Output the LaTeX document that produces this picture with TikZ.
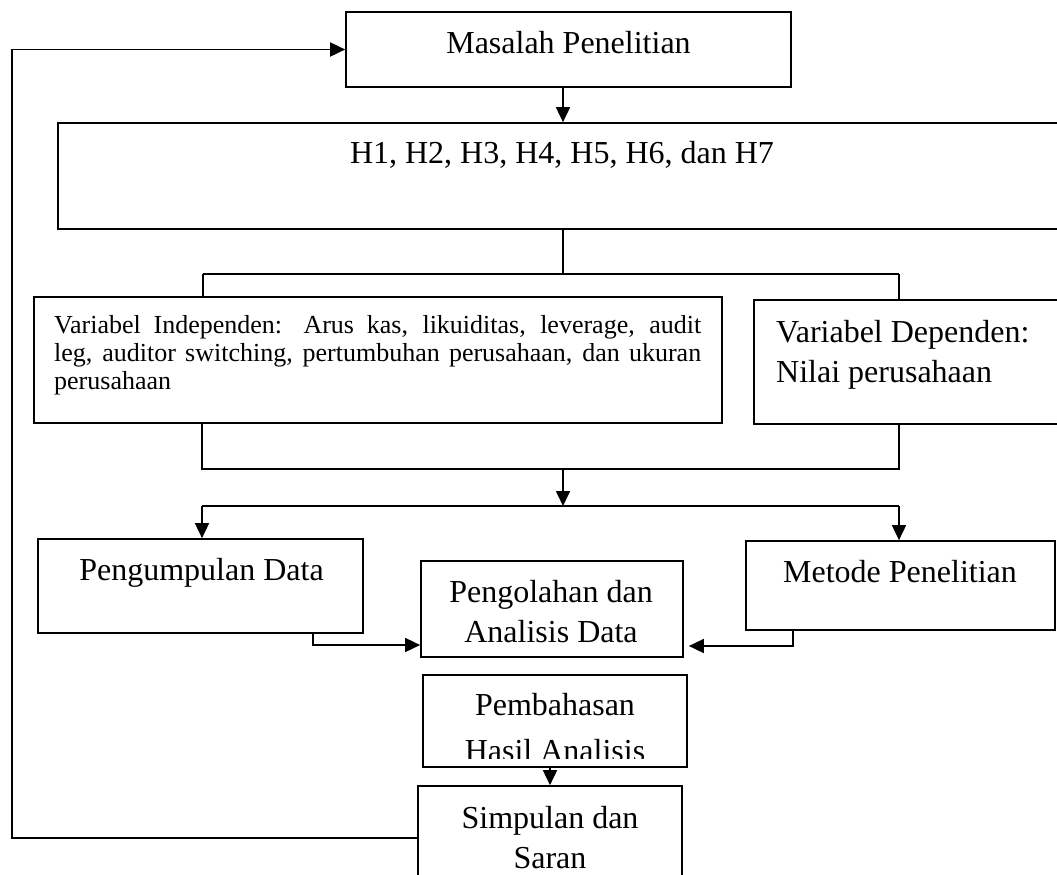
\documentclass[tikz,border=0pt]{standalone}
\usepackage{fontspec}
\setmainfont{Liberation Serif}
\usetikzlibrary{arrows.meta,calc}
\begin{document}
\begin{tikzpicture}[x=1pt,y=-1pt,
  box/.style={draw,line width=1.7pt,inner sep=0pt,rectangle},
  txt/.style={inner sep=0pt,font=\fontsize{32}{40}\selectfont},
  ln/.style={line width=1.7pt},
  arr/.style={line width=1.7pt,-{Triangle[length=15pt,width=14pt]}}]
\useasboundingbox (0,0) rectangle (1057,875);
\fill[white] (0,0) rectangle (1057,875);
\clip (0,0) rectangle (1057,875);

% boxes
\node[box,minimum width=445pt,minimum height=75pt] (mas) at (568.5,49.5) {};
\node[box,minimum width=1002pt,minimum height=106pt] (hyp) at (559,176) {};
\node[box,minimum width=688pt,minimum height=126pt] (vi) at (378,360) {};
\node[box,minimum width=308pt,minimum height=124pt] (vd) at (908,362) {};
\node[box,minimum width=325pt,minimum height=94pt] (pd) at (200.5,586) {};
\node[box,minimum width=262pt,minimum height=96pt] (pa) at (552,609) {};
\node[box,minimum width=309pt,minimum height=89pt] (mp) at (900.5,585.5) {};
\node[box,minimum width=264pt,minimum height=92pt] (ph) at (555,721) {};
\node[box,minimum width=264pt,minimum height=114pt] (sp) at (550,843) {};

% texts
\node[txt,anchor=base] (mast) at (568.5,53) {Masalah Penelitian};
\node[txt,anchor=base] (hypt) at (562,163) {H1, H2, H3, H4, H5, H6, dan H7};
\node[inner sep=0pt,anchor=north west,text width=647pt,align=justify,
      font=\fontsize{26}{28}\selectfont] (vit) at (54,315)
  {Variabel Independen: Arus kas, likuiditas, leverage, audit\linebreak
   leg, auditor switching, pertumbuhan perusahaan, dan ukuran\linebreak
   perusahaan};
\node[txt,anchor=north west,align=left] (vdt) at (776,320) {Variabel Dependen:\\Nilai perusahaan};
\node[txt,anchor=base] (pdt) at (201.5,580) {Pengumpulan Data};
\node[txt,anchor=north,align=center] (pat) at (551,580) {Pengolahan dan\\Analisis Data};
\node[txt,anchor=base] (mpt) at (900,582) {Metode Penelitian};
\begin{scope}
  \clip (ph.north west) rectangle ($(ph.south east)+(0,-9)$);
  \node[txt,anchor=north,align=center] (pht) at (555,693) {Pembahasan\\[6pt]Hasil Analisis};
\end{scope}
\node[txt,anchor=north,align=center] (spt) at (550,806) {Simpulan dan\\Saran};

% junction coordinates
\coordinate (jc) at (563,0);
\coordinate (h1) at (563,274);
\coordinate (hl) at (203,274);
\coordinate (hr) at (899,274);
\coordinate (m1) at (563,469);
\coordinate (ml) at (202,469);
\coordinate (mr) at (899,469);
\coordinate (s1) at (563,506);
\coordinate (sl) at (202,506);
\coordinate (sr) at (899,506);
\coordinate (pk) at (313,645);
\coordinate (mk) at (793,646);
\coordinate (pc) at (550,0);
\coordinate (fb) at (12,838);
\coordinate (ft) at (12,49.5);

% connectors
\draw[arr] (mas.south -| jc) -- (hyp.north -| jc);
\draw[ln] (hyp.south -| jc) -- (h1);
\draw[ln] (hl) -- (hr);
\draw[ln] (hl) -- (vi.north -| hl);
\draw[ln] (hr) -- (vd.north -| hr);
\draw[ln] (vi.south -| ml) -- (ml) -- (mr) -- (vd.south -| mr);
\draw[arr] (m1) -- (s1);
\draw[ln] (sl) -- (sr);
\draw[arr] (sl) -- (pd.north -| sl);
\draw[arr] (sr) -- (mp.north -| sr);
\draw[arr] (pd.south -| pk) -- (pk) -- (pk -| pa.west);
\draw[arr] (mp.south -| mk) -- (mk) -- ($(mk -| pa.east)+(5,0)$);
\draw[arr] (ph.south -| pc) -- (sp.north -| pc);
\draw[arr,line width=1.9pt] (sp.west |- fb) -- (fb) -- (ft) -- (mas.west |- ft);
\end{tikzpicture}
\end{document}
